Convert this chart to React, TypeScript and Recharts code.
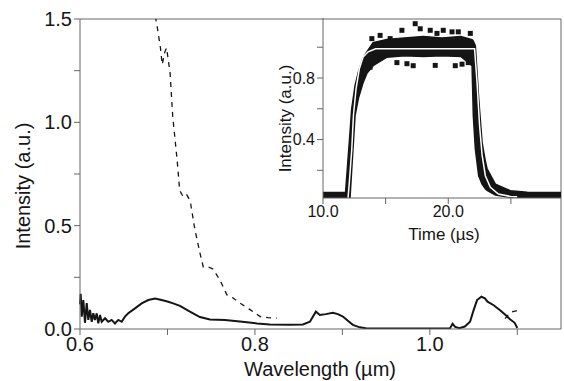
import React from 'react';
import { LineChart, ComposedChart, Line, Area, Scatter, XAxis, YAxis, ReferenceLine } from 'recharts';

const FONT = '"Liberation Sans", Arial, Helvetica, sans-serif';
const INK = '#151515';

// main spectrum: wavelength (µm) vs intensity, solid curve
const solidWl = [
  0.6, 0.6008, 0.602, 0.6038, 0.6057, 0.6077, 0.6095, 0.6114, 0.6134, 0.6152, 0.6171, 0.6191, 0.6209,
  0.6229, 0.6248, 0.6286, 0.6323, 0.6362, 0.64, 0.6438, 0.6477, 0.6514, 0.6552, 0.6629, 0.6705, 0.6781,
  0.6857, 0.6934, 0.7009, 0.7066, 0.7143, 0.7257, 0.7371, 0.7486, 0.7657, 0.7829, 0.8023, 0.8171, 0.84,
  0.8549, 0.8629, 0.8697, 0.8743, 0.8811, 0.8891, 0.8949, 0.9006, 0.9063, 0.912, 0.92, 0.928, 0.966, 1.0,
  1.023, 1.026, 1.029, 1.034, 1.04, 1.046, 1.05, 1.054, 1.059, 1.063, 1.066, 1.073, 1.08, 1.086, 1.091,
  1.097, 1.1,
];
const solidI = [
  0.12, 0.17, 0.06, 0.14, 0.03, 0.125, 0.044, 0.092, 0.035, 0.076, 0.044, 0.076, 0.027,
  0.068, 0.035, 0.052, 0.035, 0.044, 0.027, 0.044, 0.035, 0.06, 0.076, 0.1, 0.124, 0.14,
  0.148, 0.14, 0.132, 0.124, 0.112, 0.084, 0.058, 0.046, 0.044, 0.036, 0.027, 0.022, 0.02,
  0.022, 0.035, 0.084, 0.068, 0.072, 0.079, 0.072, 0.06, 0.04, 0.02, 0.008, 0.003, 0.003, 0.003,
  0.003, 0.025, 0.01, 0.004, 0.012, 0.035, 0.09, 0.14, 0.156, 0.148, 0.132, 0.115, 0.092, 0.07, 0.05,
  0.03, 0.005,
];

// dashed curve (hidden under the solid one between 0.83 and 1.08)
const dashWl = [
  0.684, 0.688, 0.692, 0.694, 0.697, 0.699, 0.703, 0.706, 0.711, 0.714, 0.718, 0.722, 0.726, 0.731,
  0.737, 0.741, 0.747, 0.752, 0.76, 0.768, 0.775, 0.781, 0.794, 0.806, 0.815, 0.825, 0.95, 1.086, 1.092, 1.1,
];
const dashI: (number | null)[] = [
  1.56, 1.47, 1.36, 1.28, 1.34, 1.36, 1.24, 1.03, 0.82, 0.67, 0.64, 0.65, 0.62, 0.49,
  0.37, 0.3, 0.3, 0.29, 0.237, 0.165, 0.15, 0.131, 0.095, 0.06, 0.055, 0.053, null, 0.05, 0.08, 0.09,
];

const wlDomain = [0.6, 1.15];
const wlTicks = [0.6, 0.7, 0.8, 0.9, 1.0, 1.1];
const wlLabels = [0.6, 0.8, 1.0];
const intDomain = [0, 1.5];
const intTicks = [0, 0.25, 0.5, 0.75, 1.0, 1.25, 1.5];
const intLabels = [0, 0.5, 1.0, 1.5];

// inset: time (µs) vs intensity — dense data band, outlying points, fit
const bandT = [10, 11.8, 12.16, 12.29, 12.56, 12.83, 13.2, 13.5, 14.0, 15.1, 16.5, 18.0, 19.5, 21.0, 21.9, 22.0, 22.16, 22.43, 22.7, 22.96, 23.1, 23.76, 24.96, 26.3, 29];
const bandLo = [0.02, 0.02, 0.025, 0.2, 0.556, 0.67, 0.77, 0.83, 0.88, 0.935, 0.945, 0.94, 0.945, 0.94, 0.88, 0.556, 0.34, 0.165, 0.11, 0.08, 0.07, 0.04, 0.025, 0.02, 0.02];
const bandHi = [0.055, 0.055, 0.45, 0.6, 0.75, 0.84, 0.93, 0.97, 1.03, 1.05, 1.06, 1.07, 1.06, 1.07, 1.05, 1.04, 1.01, 0.665, 0.38, 0.26, 0.21, 0.11, 0.067, 0.057, 0.055];

const outT = [13.76, 13.9, 14.56, 15.36, 15.9, 16.3, 16.7, 17.2, 17.36, 17.76, 18.56, 18.96, 19.1, 19.6, 20.3, 20.56, 20.8, 21.1, 21.6, 21.76];
const outV = [0.87, 1.056, 1.077, 1.056, 0.9, 1.11, 0.893, 0.88, 1.153, 1.12, 1.11, 0.882, 1.09, 1.11, 1.1, 0.88, 1.1, 0.89, 0.9, 1.09];

const fitT = [12.0, 12.1, 12.3, 12.43, 12.64, 12.9, 13.2, 13.6, 14.2, 22.1, 22.3, 22.5, 22.7, 22.96, 23.36, 24.0, 24.96, 25.5];
const fitV = [0.02, 0.12, 0.34, 0.556, 0.73, 0.86, 0.936, 0.97, 0.99, 0.99, 0.77, 0.49, 0.3, 0.165, 0.09, 0.046, 0.03, 0.028];

const tTicks = [10, 15, 20, 25];
const tLabels = [10, 20];
const vTicks = [0.2, 0.4, 0.6, 0.8, 1.0];
const vLabels = [0.4, 0.8];

const solidData = solidWl.map((x, i) => ({ x, y: solidI[i] }));
const dashData = dashWl.map((x, i) => ({ x, y: dashI[i] }));
const bandData = bandT.map((t, i) => ({ t, band: [bandLo[i], bandHi[i]] }));
const outData = outT.map((t, i) => ({ t, v: outV[i] }));
const fitData = fitT.map((t, i) => ({ t, v: fitV[i] }));

const has = (list: number[], v: number) => list.some((l) => Math.abs(l - v) < 1e-6);

const Square = (p: any) => <rect x={p.cx - 2.5} y={p.cy - 2.5} width={5} height={5} fill={INK} />;

// rotated title, centred on (cx, cy)
function VTitle({ cx, cy, size, children }: { cx: number; cy: number; size: number; children: React.ReactNode }) {
  return (
    <div
      style={{
        position: 'absolute',
        left: cx - 100,
        top: cy - size / 2,
        width: 200,
        height: size,
        lineHeight: `${size}px`,
        fontSize: size,
        textAlign: 'center',
        color: INK,
        transform: 'rotate(-90deg)',
        whiteSpace: 'nowrap',
      }}
    >
      {children}
    </div>
  );
}

export default function App() {
  const mainTick = { fill: INK, fontSize: 20, fontFamily: FONT };
  const insetTick = { fill: INK, fontSize: 16, fontFamily: FONT };

  return (
    <div style={{ position: 'absolute', left: 0, top: 0, width: 564, height: 381, background: '#fff', fontFamily: FONT }}>
      <div style={{ position: 'absolute', left: 0, top: 0 }}>
        <LineChart width={564} height={381} margin={{ top: 19, right: 3, bottom: 0, left: 0 }}>
          <XAxis
            type="number"
            dataKey="x"
            domain={wlDomain}
            ticks={wlTicks}
            height={52}
            tick={mainTick}
            tickFormatter={(v: number) => (has(wlLabels, v) ? v.toFixed(1) : '')}
          />
          <YAxis
            domain={intDomain}
            ticks={intTicks}
            allowDataOverflow
            width={80}
            tick={mainTick}
            tickFormatter={(v: number) => (has(intLabels, v) ? v.toFixed(1) : '')}
          />
          {/* frame: top and right edges */}
          <ReferenceLine y={1.5} stroke="#666" />
          <ReferenceLine x={1.15} stroke="#666" />
          <Line
            data={dashData}
            dataKey="y"
            stroke={INK}
            strokeWidth={1.3}
            strokeDasharray="5 5"
            dot={false}
            isAnimationActive={false}
          />
          <Line
            data={solidData}
            dataKey="y"
            stroke={INK}
            strokeWidth={2}
            dot={false}
            isAnimationActive={false}
          />
        </LineChart>
      </div>

      {/* inset */}
      <div style={{ position: 'absolute', left: 0, top: 0 }}>
        <ComposedChart width={564} height={381} margin={{ top: 18, right: 3, bottom: 0, left: 0 }}>
          <XAxis
            type="number"
            dataKey="t"
            domain={[10, 29]}
            ticks={tTicks}
            height={183}
            tick={insetTick}
            tickFormatter={(v: number) => (has(tLabels, v) ? v.toFixed(1) : '')}
          />
          <YAxis
            type="number"
            domain={[0.02, 1.19]}
            ticks={vTicks}
            allowDataOverflow
            width={323}
            tick={insetTick}
            tickFormatter={(v: number) => (has(vLabels, v) ? v.toFixed(1) : '')}
          />
          <Area
            data={bandData}
            dataKey="band"
            type="linear"
            stroke={INK}
            strokeWidth={1.5}
            fill={INK}
            fillOpacity={1}
            isAnimationActive={false}
          />
          <Scatter data={outData} dataKey="v" shape={Square} isAnimationActive={false} />
          <Line
            data={fitData}
            dataKey="v"
            type="linear"
            stroke="#ffffff"
            strokeWidth={1.5}
            dot={false}
            isAnimationActive={false}
          />
        </ComposedChart>
      </div>

      {/* axis titles */}
      <div style={{ position: 'absolute', left: 0, top: 359, width: 640, lineHeight: '20px', textAlign: 'center', fontSize: 20, color: INK }}>
        Wavelength (µm)
      </div>
      <div style={{ position: 'absolute', left: 344, top: 226, width: 200, lineHeight: '17px', textAlign: 'center', fontSize: 17, color: INK }}>
        Time (µs)
      </div>
      <VTitle cx={23} cy={186} size={20}>Intensity (a.u.)</VTitle>
      <VTitle cx={285} cy={118} size={17}>Intensity (a.u.)</VTitle>
    </div>
  );
}
